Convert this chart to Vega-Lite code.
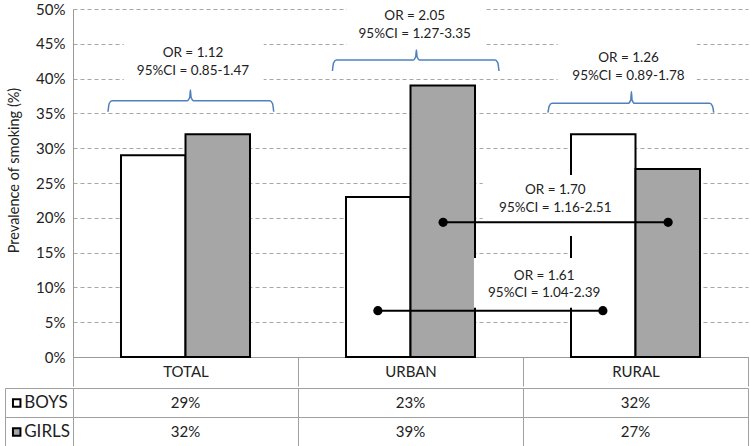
{
  "$schema": "https://vega.github.io/schema/vega-lite/v6.json",
  "background": "white",
  "padding": {"left": 4, "top": 0, "right": 0, "bottom": 0},
  "autosize": {"type": "pad"},
  "config": {
    "font": "Lato",
    "view": {"stroke": null},
    "axis": {"labelFont": "Lato", "titleFont": "Lato"},
    "legend": {"labelFont": "Lato"}
  },
  "datasets": {
    "bars": [
      {"cat": "TOTAL", "sex": "BOYS", "value": 0.29},
      {"cat": "TOTAL", "sex": "GIRLS", "value": 0.32},
      {"cat": "URBAN", "sex": "BOYS", "value": 0.23},
      {"cat": "URBAN", "sex": "GIRLS", "value": 0.39},
      {"cat": "RURAL", "sex": "BOYS", "value": 0.32},
      {"cat": "RURAL", "sex": "GIRLS", "value": 0.27}
    ],
    "braces": [
      {"id": "T", "o": 1, "x": 0.1556, "y": 0.3524},
      {"id": "T", "o": 2, "x": 0.1609, "y": 0.3642},
      {"id": "T", "o": 3, "x": 0.1733, "y": 0.3682},
      {"id": "T", "o": 4, "x": 0.5076, "y": 0.3682},
      {"id": "T", "o": 5, "x": 0.5187, "y": 0.3728},
      {"id": "T", "o": 6, "x": 0.5218, "y": 0.3836},
      {"id": "T", "o": 7, "x": 0.5249, "y": 0.3728},
      {"id": "T", "o": 8, "x": 0.536, "y": 0.3682},
      {"id": "T", "o": 9, "x": 0.8742, "y": 0.3682},
      {"id": "T", "o": 10, "x": 0.8867, "y": 0.3642},
      {"id": "T", "o": 11, "x": 0.892, "y": 0.3524},
      {"id": "U", "o": 1, "x": 1.1529, "y": 0.4109},
      {"id": "U", "o": 2, "x": 1.1582, "y": 0.4227},
      {"id": "U", "o": 3, "x": 1.1707, "y": 0.4267},
      {"id": "U", "o": 4, "x": 1.512, "y": 0.4267},
      {"id": "U", "o": 5, "x": 1.5231, "y": 0.4313},
      {"id": "U", "o": 6, "x": 1.5262, "y": 0.4411},
      {"id": "U", "o": 7, "x": 1.5293, "y": 0.4313},
      {"id": "U", "o": 8, "x": 1.5404, "y": 0.4267},
      {"id": "U", "o": 9, "x": 1.8756, "y": 0.4267},
      {"id": "U", "o": 10, "x": 1.888, "y": 0.4227},
      {"id": "U", "o": 11, "x": 1.8933, "y": 0.4109},
      {"id": "R", "o": 1, "x": 2.1111, "y": 0.351},
      {"id": "R", "o": 2, "x": 2.1164, "y": 0.3605},
      {"id": "R", "o": 3, "x": 2.1289, "y": 0.3645},
      {"id": "R", "o": 4, "x": 2.4676, "y": 0.3645},
      {"id": "R", "o": 5, "x": 2.4787, "y": 0.3691},
      {"id": "R", "o": 6, "x": 2.4818, "y": 0.3812},
      {"id": "R", "o": 7, "x": 2.4849, "y": 0.3691},
      {"id": "R", "o": 8, "x": 2.496, "y": 0.3645},
      {"id": "R", "o": 9, "x": 2.8298, "y": 0.3645},
      {"id": "R", "o": 10, "x": 2.8422, "y": 0.3605},
      {"id": "R", "o": 11, "x": 2.8476, "y": 0.351}
    ],
    "labels": [
      {"x": 0.5333, "y": 0.4372, "t": "OR = 1.12"},
      {"x": 0.5333, "y": 0.4114, "t": "95%CI = 0.85-1.47"},
      {"x": 1.5187, "y": 0.49, "t": "OR = 2.05"},
      {"x": 1.5187, "y": 0.4636, "t": "95%CI = 1.27-3.35"},
      {"x": 2.4689, "y": 0.4292, "t": "OR = 1.26"},
      {"x": 2.4689, "y": 0.4037, "t": "95%CI = 0.89-1.78"},
      {"x": 2.1436, "y": 0.2399, "t": "OR = 1.70"},
      {"x": 2.1436, "y": 0.2136, "t": "95%CI = 1.16-2.51"},
      {"x": 2.0942, "y": 0.1164, "t": "OR = 1.61"},
      {"x": 2.0942, "y": 0.0915, "t": "95%CI = 1.04-2.39"}
    ],
    "boxes": [
      {"x1": 0.2258, "x2": 0.8476, "y1": 0.3894, "y2": 0.4612},
      {"x1": 1.2164, "x2": 1.8298, "y1": 0.444, "y2": 0.5129},
      {"x1": 2.1542, "x2": 2.772, "y1": 0.3865, "y2": 0.4555},
      {"x1": 1.8209, "x2": 2.4653, "y1": 0.1739, "y2": 0.2615},
      {"x1": 1.782, "x2": 2.4076, "y1": 0.0708, "y2": 0.1422}
    ],
    "links": [
      {"id": "G", "x": 1.645, "y": 0.1935},
      {"id": "G", "x": 2.645, "y": 0.1935},
      {"id": "B", "x": 1.355, "y": 0.0665},
      {"id": "B", "x": 2.355, "y": 0.0665}
    ]
  },
  "spacing": 0,
  "resolve": {"scale": {"fill": "shared"}, "legend": {"fill": "shared"}},
  "vconcat": [
    {
      "width": 675,
      "height": 348,
      "resolve": {"scale": {"x": "independent"}},
      "layer": [
        {
          "data": {"name": "bars"},
          "mark": {"type": "bar", "stroke": "black", "strokeWidth": 2},
          "encoding": {
            "x": {
              "field": "cat", "type": "nominal", "sort": ["TOTAL", "URBAN", "RURAL"],
              "scale": {"paddingInner": 0, "paddingOuter": 0},
              "axis": {
                "title": null, "labelAngle": 0, "domainColor": "#999999", "tickColor": "#A0A0A0",
                "tickBand": "extent", "tickSize": 29, "labelPadding": -22, "labelFontSize": 15,
                "labelColor": "#222222", "grid": false
              }
            },
            "xOffset": {
              "field": "sex", "type": "nominal", "sort": ["BOYS", "GIRLS"],
              "scale": {"paddingInner": 0, "paddingOuter": 0.744}
            },
            "y": {
              "field": "value", "type": "quantitative", "title": "Prevalence of smoking (%)",
              "scale": {"domain": [0, 0.5], "nice": false},
              "axis": {
                "values": [0, 0.05, 0.1, 0.15, 0.2, 0.25, 0.3, 0.35, 0.4, 0.45, 0.5],
                "format": ".0%", "grid": true, "gridDash": [4, 3], "gridColor": "#A6A6A6",
                "ticks": false, "labelPadding": 8, "domainColor": "#999999",
                "labelFontSize": 15, "titleFontSize": 14.5, "titleFontWeight": "normal",
                "titleColor": "#222222", "labelColor": "#222222", "titlePadding": 14, "titleY": 161
              }
            },
            "fill": {
              "field": "sex", "type": "nominal",
              "scale": {"domain": ["BOYS", "GIRLS"], "range": ["white", "#A6A6A6"]},
              "legend": {
                "orient": "none", "legendX": -64.8, "legendY": 385.5, "title": null,
                "symbolType": "square", "symbolSize": 56, "symbolStrokeColor": "black",
                "symbolStrokeWidth": 2, "labelFontSize": 17, "labelColor": "#222222",
                "rowPadding": 11, "labelOffset": -1, "padding": 0, "direction": "vertical"
              }
            }
          }
        },
        {
          "data": {"name": "boxes"},
          "mark": {"type": "rect", "fill": "white"},
          "encoding": {
            "x": {"field": "x1", "type": "quantitative", "scale": {"domain": [0, 3], "nice": false, "zero": false}, "axis": null},
            "x2": {"field": "x2"},
            "y": {
              "field": "y1", "type": "quantitative", "title": "Prevalence of smoking (%)",
              "scale": {"domain": [0, 0.5], "nice": false},
              "axis": {
                "values": [0, 0.05, 0.1, 0.15, 0.2, 0.25, 0.3, 0.35, 0.4, 0.45, 0.5],
                "format": ".0%", "grid": true, "gridDash": [4, 3], "gridColor": "#A6A6A6",
                "ticks": false, "labelPadding": 8, "domainColor": "#999999",
                "labelFontSize": 15, "titleFontSize": 14.5, "titleFontWeight": "normal",
                "titleColor": "#222222", "labelColor": "#222222", "titlePadding": 14, "titleY": 161
              }
            },
            "y2": {"field": "y2"}
          }
        },
        {
          "data": {"name": "braces"},
          "mark": {"type": "line", "stroke": "#4F81BD", "strokeWidth": 1.5, "interpolate": "monotone"},
          "encoding": {
            "x": {"field": "x", "type": "quantitative", "scale": {"domain": [0, 3], "nice": false, "zero": false}, "axis": null},
            "y": {
              "field": "y", "type": "quantitative", "title": "Prevalence of smoking (%)",
              "scale": {"domain": [0, 0.5], "nice": false},
              "axis": {
                "values": [0, 0.05, 0.1, 0.15, 0.2, 0.25, 0.3, 0.35, 0.4, 0.45, 0.5],
                "format": ".0%", "grid": true, "gridDash": [4, 3], "gridColor": "#A6A6A6",
                "ticks": false, "labelPadding": 8, "domainColor": "#999999",
                "labelFontSize": 15, "titleFontSize": 14.5, "titleFontWeight": "normal",
                "titleColor": "#222222", "labelColor": "#222222", "titlePadding": 14, "titleY": 161
              }
            },
            "detail": {"field": "id"},
            "order": {"field": "o"}
          }
        },
        {
          "data": {"name": "links"},
          "mark": {"type": "line", "stroke": "black", "strokeWidth": 2},
          "encoding": {
            "x": {"field": "x", "type": "quantitative", "scale": {"domain": [0, 3], "nice": false, "zero": false}, "axis": null},
            "y": {
              "field": "y", "type": "quantitative", "title": "Prevalence of smoking (%)",
              "scale": {"domain": [0, 0.5], "nice": false},
              "axis": {
                "values": [0, 0.05, 0.1, 0.15, 0.2, 0.25, 0.3, 0.35, 0.4, 0.45, 0.5],
                "format": ".0%", "grid": true, "gridDash": [4, 3], "gridColor": "#A6A6A6",
                "ticks": false, "labelPadding": 8, "domainColor": "#999999",
                "labelFontSize": 15, "titleFontSize": 14.5, "titleFontWeight": "normal",
                "titleColor": "#222222", "labelColor": "#222222", "titlePadding": 14, "titleY": 161
              }
            },
            "detail": {"field": "id"}
          }
        },
        {
          "data": {"name": "links"},
          "mark": {"type": "point", "filled": true, "color": "black", "size": 85, "opacity": 1},
          "encoding": {
            "x": {"field": "x", "type": "quantitative", "scale": {"domain": [0, 3], "nice": false, "zero": false}, "axis": null},
            "y": {
              "field": "y", "type": "quantitative", "title": "Prevalence of smoking (%)",
              "scale": {"domain": [0, 0.5], "nice": false},
              "axis": {
                "values": [0, 0.05, 0.1, 0.15, 0.2, 0.25, 0.3, 0.35, 0.4, 0.45, 0.5],
                "format": ".0%", "grid": true, "gridDash": [4, 3], "gridColor": "#A6A6A6",
                "ticks": false, "labelPadding": 8, "domainColor": "#999999",
                "labelFontSize": 15, "titleFontSize": 14.5, "titleFontWeight": "normal",
                "titleColor": "#222222", "labelColor": "#222222", "titlePadding": 14, "titleY": 161
              }
            }
          }
        },
        {
          "data": {"name": "labels"},
          "mark": {"type": "text", "fontSize": 13.5, "color": "#222222", "baseline": "middle", "align": "center"},
          "encoding": {
            "x": {"field": "x", "type": "quantitative", "scale": {"domain": [0, 3], "nice": false, "zero": false}, "axis": null},
            "y": {
              "field": "y", "type": "quantitative", "title": "Prevalence of smoking (%)",
              "scale": {"domain": [0, 0.5], "nice": false},
              "axis": {
                "values": [0, 0.05, 0.1, 0.15, 0.2, 0.25, 0.3, 0.35, 0.4, 0.45, 0.5],
                "format": ".0%", "grid": true, "gridDash": [4, 3], "gridColor": "#A6A6A6",
                "ticks": false, "labelPadding": 8, "domainColor": "#999999",
                "labelFontSize": 15, "titleFontSize": 14.5, "titleFontWeight": "normal",
                "titleColor": "#222222", "labelColor": "#222222", "titlePadding": 14, "titleY": 161
              }
            },
            "text": {"field": "t"}
          }
        }
      ]
    },
    {
      "width": 675,
      "height": 58,
      "data": {"name": "bars"},
      "resolve": {"axis": {"y": "independent"}},
      "layer": [
        {
          "mark": {"type": "text", "fontSize": 15, "color": "#222222"},
          "encoding": {
            "x": {
              "field": "cat", "type": "nominal", "sort": ["TOTAL", "URBAN", "RURAL"],
              "scale": {"paddingInner": 0, "paddingOuter": 0},
              "axis": {"title": null, "labels": false, "ticks": false, "domain": false, "grid": true,
                       "tickBand": "extent", "gridColor": "#A0A0A0", "gridOpacity": 1}
            },
            "y": {
              "field": "sex", "type": "nominal", "sort": ["BOYS", "GIRLS"],
              "axis": {"title": null, "labels": false, "ticks": true, "tickBand": "extent", "tickSize": 68,
                       "tickColor": "#A0A0A0", "domainColor": "#A0A0A0", "grid": true,
                       "gridColor": "#A0A0A0", "gridOpacity": 1}
            },
            "text": {"field": "value", "type": "quantitative", "format": ".0%"}
          }
        },
        {
          "mark": {"type": "text", "text": ""},
          "encoding": {
            "y": {
              "field": "sex", "type": "nominal", "sort": ["BOYS", "GIRLS"],
              "axis": {"orient": "left", "offset": 68, "title": null, "labels": false, "ticks": false,
                       "grid": false, "domainColor": "#A0A0A0"}
            }
          }
        }
      ]
    }
  ]
}
